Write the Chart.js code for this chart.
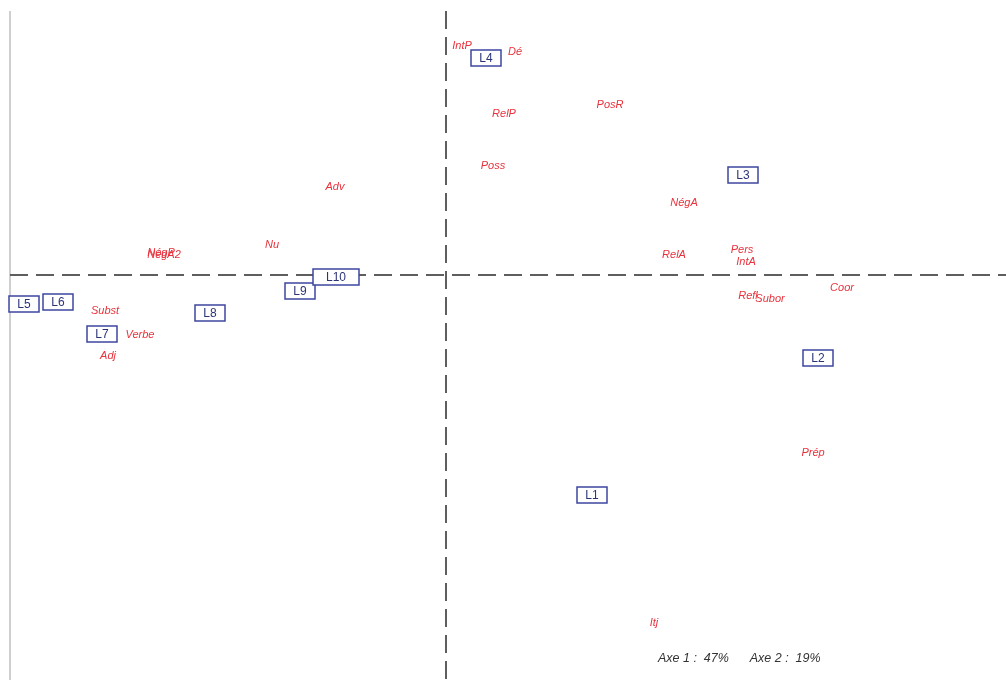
<!DOCTYPE html>
<html>
<head>
<meta charset="utf-8">
<title>Plan factoriel</title>
<script src="https://cdn.jsdelivr.net/npm/chart.js@4.4.0/dist/chart.umd.min.js"></script>
<style>
  body { margin: 0; background: #fff; }
  #wrap { width: 1006px; height: 680px; position: relative; }
</style>
</head>
<body>
<div id="wrap"><canvas id="afc"></canvas></div>
<script>
// catégories grammaticales (colonnes)
let catLabels = ['IntP', 'Dé', 'RelP', 'PosR', 'Poss', 'Adv', 'NégA', 'Pers', 'IntA', 'RelA',
                 'Nu', 'NégP', 'NégA2', 'Refl', 'Subor', 'Coor', 'Subst', 'Verbe', 'Adj', 'Prép', 'Itj'];
let catX = [0.04, 0.1725, 0.145, 0.41, 0.1175, -0.2775, 0.595, 0.74, 0.75, 0.57,
            -0.435, -0.7125, -0.705, 0.755, 0.81, 0.99, -0.8525, -0.765, -0.845, 0.9175, 0.52];
let catY = [0.5725, 0.5575, 0.4025, 0.425, 0.2725, 0.22, 0.18, 0.0625, 0.0325, 0.05,
            0.075, 0.055, 0.05, -0.0525, -0.06, -0.0325, -0.09, -0.15, -0.2025, -0.445, -0.87];

// locuteurs (lignes)
let locLabels = ['L1', 'L2', 'L3', 'L4', 'L5', 'L6', 'L7', 'L8', 'L9', 'L10'];
let locX = [0.365, 0.93, 0.7425, 0.1, -1.055, -0.97, -0.86, -0.59, -0.365, -0.275];
let locY = [-0.55, -0.2075, 0.25, 0.5425, -0.0725, -0.0675, -0.1475, -0.095, -0.04, -0.005];

// inertie des axes
let axeInertie = [47, 19];

let xMin = -1.115, xMax = 1.4;
let yMin = -1.0125, yMax = 0.6875;
let cadreX = -1.09;   // bord gauche du cadre
let cadreY = 0.66;    // haut des traits

let catPoints = catX.map(function(x, i) { return { x: x, y: catY[i] }; });
let locPoints = locX.map(function(x, i) { return { x: x, y: locY[i] }; });

// axes en tirets + cadre gauche
let axesPlugin = {
    id: 'axesAfc',
    beforeDatasetsDraw: function(chart) {
        let ctx = chart.ctx;
        let sx = chart.scales.x, sy = chart.scales.y;
        let x0 = sx.getPixelForValue(0), y0 = sy.getPixelForValue(0);
        let xl = sx.getPixelForValue(cadreX), yt = sy.getPixelForValue(cadreY);
        ctx.save();
        ctx.strokeStyle = '#cfcfcf';
        ctx.lineWidth = 2;
        ctx.beginPath();
        ctx.moveTo(xl, yt);
        ctx.lineTo(xl, sy.bottom);
        ctx.stroke();

        ctx.strokeStyle = '#5e5e5e';
        ctx.lineWidth = 2;
        ctx.setLineDash([18, 8]);
        ctx.beginPath();
        ctx.moveTo(xl, y0);
        ctx.lineTo(sx.right, y0);
        ctx.stroke();
        ctx.beginPath();
        ctx.moveTo(x0, yt);
        ctx.lineTo(x0, sy.bottom);
        ctx.stroke();
        ctx.restore();
    }
};

// étiquettes des points
let labelPlugin = {
    id: 'etiquettes',
    afterDatasetsDraw: function(chart) {
        let ctx = chart.ctx;
        ctx.save();
        ctx.textAlign = 'center';
        ctx.textBaseline = 'middle';

        let metaCat = chart.getDatasetMeta(0);
        ctx.font = 'italic 11px "Liberation Sans", Arial, sans-serif';
        ctx.fillStyle = '#e8323c';
        metaCat.data.forEach(function(pt, i) {
            ctx.fillText(catLabels[i], pt.x, pt.y);
        });

        let metaLoc = chart.getDatasetMeta(1);
        ctx.font = '12px "Liberation Sans", Arial, sans-serif';
        metaLoc.data.forEach(function(pt, i) {
            let txt = locLabels[i];
            let w = Math.max(30, ctx.measureText(txt).width + 16);
            if (txt === 'L10') w = 46;
            let h = 16;
            ctx.fillStyle = '#ffffff';
            ctx.fillRect(pt.x - w / 2, pt.y - h / 2, w, h);
            ctx.strokeStyle = '#3c46a0';
            ctx.lineWidth = 1.5;
            ctx.strokeRect(pt.x - w / 2, pt.y - h / 2, w, h);
            ctx.fillStyle = '#2c3478';
            ctx.fillText(txt, pt.x, pt.y + 1);
        });

        // inertie
        ctx.font = 'italic 12.5px "Liberation Sans", Arial, sans-serif';
        ctx.fillStyle = '#333333';
        ctx.textAlign = 'left';
        let sx = chart.scales.x, sy = chart.scales.y;
        let tx = sx.getPixelForValue(0.53), ty = sy.getPixelForValue(-0.96);
        ctx.fillText('Axe 1 :  ' + axeInertie[0] + '%      Axe 2 :  ' + axeInertie[1] + '%', tx, ty);
        ctx.restore();
    }
};

let ctx = document.getElementById('afc').getContext('2d');
let afcChart = new Chart(ctx, {
    type: 'scatter',
    data: {
        datasets: [
            { label: 'Catégories', data: catPoints, pointRadius: 0, pointHoverRadius: 0 },
            { label: 'Locuteurs', data: locPoints, pointRadius: 0, pointHoverRadius: 0 }
        ]
    },
    options: {
        responsive: true,
        maintainAspectRatio: false,
        animation: false,
        layout: { padding: 0 },
        scales: {
            x: { type: 'linear', min: xMin, max: xMax, display: false },
            y: { type: 'linear', min: yMin, max: yMax, display: false }
        },
        plugins: {
            legend: { display: false },
            tooltip: { enabled: false }
        }
    },
    plugins: [axesPlugin, labelPlugin]
});
</script>
</body>
</html>
